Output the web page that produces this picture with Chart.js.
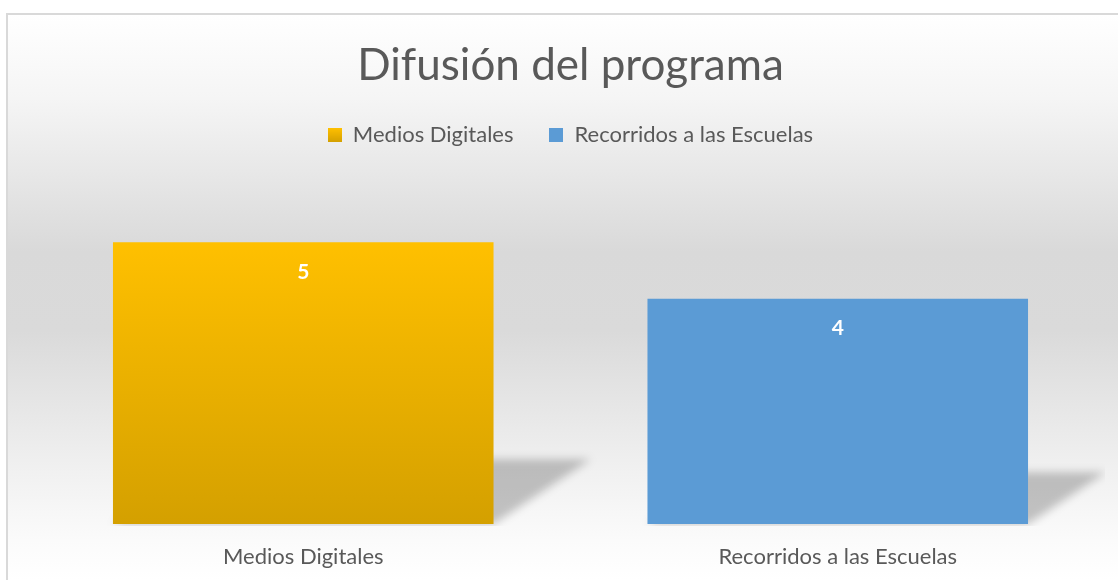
<!DOCTYPE html>
<html><head><meta charset="utf-8">
<script src="https://cdn.jsdelivr.net/npm/chart.js@4/dist/chart.umd.min.js"></script>
<style>html,body{margin:0;padding:0;background:#fff;overflow:hidden}#wrap{width:1118px;height:580px;position:relative}</style>
</head><body><div id="wrap"><canvas id="c" width="1118" height="580"></canvas></div>
<script>
const titleText = 'Difusión del programa';
const categories = ['Medios Digitales', 'Recorridos a las Escuelas'];
const values = [5, 4];
const axisMin = 0;
const axisMax = 6;
const colorsTop = ['#FFC000', '#5B9BD5'];
const colorsBottom = ['#D4A000', '#5B9BD5'];

const FONT = 'Lato, "Open Sans", sans-serif';
const TEXT = '#595959';

function swatch(i) {
  const c = document.createElement('canvas');
  c.width = 14; c.height = 14;
  const x = c.getContext('2d');
  const g = x.createLinearGradient(0, 0, 0, 14);
  g.addColorStop(0, colorsTop[i]); g.addColorStop(1, colorsBottom[i]);
  x.fillStyle = g; x.fillRect(0, 0, 14, 14);
  return c;
}
const swatches = categories.map((_, i) => swatch(i));

const bgPlugin = {
  id: 'bg',
  beforeDraw(chart) {
    const ctx = chart.ctx, W = chart.width, H = chart.height;
    ctx.save();
    ctx.fillStyle = '#ffffff'; ctx.fillRect(0, 0, W, H);
    const g = ctx.createLinearGradient(0, 14, 0, H);
    g.addColorStop(0, '#ffffff');
    g.addColorStop(0.15, '#f5f5f5');
    g.addColorStop(0.42, '#d9d9d9');
    g.addColorStop(0.56, '#dadada');
    g.addColorStop(0.8, '#f0f0f0');
    g.addColorStop(0.93, '#fbfbfb');
    g.addColorStop(1, '#ffffff');
    ctx.fillStyle = g; ctx.fillRect(7, 14, W - 7, H - 14);
    ctx.strokeStyle = '#d9d9d9'; ctx.lineWidth = 2;
    ctx.beginPath(); ctx.moveTo(7, H); ctx.lineTo(7, 14); ctx.lineTo(W, 14); ctx.stroke();
    ctx.restore();
  }
};

const shadowPlugin = {
  id: 'barShadow',
  beforeDatasetsDraw(chart) {
    const ctx = chart.ctx, a = chart.chartArea;
    ctx.save();
    ctx.beginPath(); ctx.rect(a.left, a.top, a.right - a.left, a.bottom - a.top + 2); ctx.clip();
    ctx.filter = 'blur(4px)';
    ctx.fillStyle = 'rgba(0,0,0,0.22)';
    chart.getDatasetMeta(0).data.forEach(el => {
      const p = el.getProps(['x', 'y', 'base', 'width'], true);
      const h = p.base - p.y, l = p.x - p.width / 2, r = p.x + p.width / 2;
      const dx = h * 0.345, dy = h * 0.23;
      ctx.beginPath();
      ctx.moveTo(l, p.base); ctx.lineTo(r, p.base);
      ctx.lineTo(r + dx, p.base - dy); ctx.lineTo(l + dx, p.base - dy);
      ctx.closePath(); ctx.fill();
    });
    ctx.restore();
  }
};

const labelPlugin = {
  id: 'valueLabels',
  afterDatasetsDraw(chart) {
    const ctx = chart.ctx;
    ctx.save();
    ctx.fillStyle = '#ffffff';
    ctx.font = 'bold 21px ' + FONT;
    ctx.textAlign = 'center'; ctx.textBaseline = 'middle';
    chart.getDatasetMeta(0).data.forEach((el, i) => {
      const p = el.getProps(['x', 'y'], true);
      ctx.fillText(String(values[i]), p.x, p.y + 30);
    });
    ctx.restore();
  }
};

new Chart(document.getElementById('c'), {
  type: 'bar',
  data: {
    labels: categories,
    datasets: [{
      data: values,
      borderWidth: 0,
      categoryPercentage: 1,
      barPercentage: 0.712,
      backgroundColor(ctx) {
        const chart = ctx.chart, i = ctx.dataIndex;
        if (!chart.chartArea || !chart.scales.y) return colorsTop[i];
        const yTop = chart.scales.y.getPixelForValue(values[i]);
        const yBot = chart.scales.y.getPixelForValue(axisMin);
        const g = chart.ctx.createLinearGradient(0, yTop, 0, yBot);
        g.addColorStop(0, colorsTop[i]); g.addColorStop(1, colorsBottom[i]);
        return g;
      }
    }]
  },
  options: {
    responsive: false,
    devicePixelRatio: 1,
    animation: false,
    layout: { padding: { left: 36, right: 13, top: 0, bottom: 12 } },
    plugins: {
      title: {
        display: true, text: titleText, color: TEXT,
        font: { family: FONT, size: 44, weight: 'normal', lineHeight: 1 },
        padding: { top: 44, bottom: 0 }
      },
      subtitle: {
        display: true, text: '', weight: 500,
        font: { size: 10, lineHeight: 1 },
        padding: { top: 0, bottom: 20 }
      },
      legend: {
        display: true, position: 'top', onClick: null,
        labels: {
          usePointStyle: true, boxWidth: 14, boxHeight: 14, padding: 36,
          color: TEXT, font: { family: FONT, size: 22 },
          generateLabels() {
            return categories.map((c, i) => ({
              text: c, pointStyle: swatches[i], fillStyle: colorsTop[i],
              strokeStyle: 'rgba(0,0,0,0)', lineWidth: 0, hidden: false,
              index: i, fontColor: TEXT
            }));
          }
        }
      },
      tooltip: { enabled: false }
    },
    scales: {
      x: {
        grid: { display: false, drawTicks: false },
        border: { display: false },
        ticks: { color: TEXT, padding: 20, font: { family: FONT, size: 22, lineHeight: 1.2 } },
        afterFit(scale) { scale.height = 44; }
      },
      y: {
        display: false, min: axisMin, max: axisMax
      }
    }
  },
  plugins: [bgPlugin, shadowPlugin, labelPlugin]
});
</script></body></html>
